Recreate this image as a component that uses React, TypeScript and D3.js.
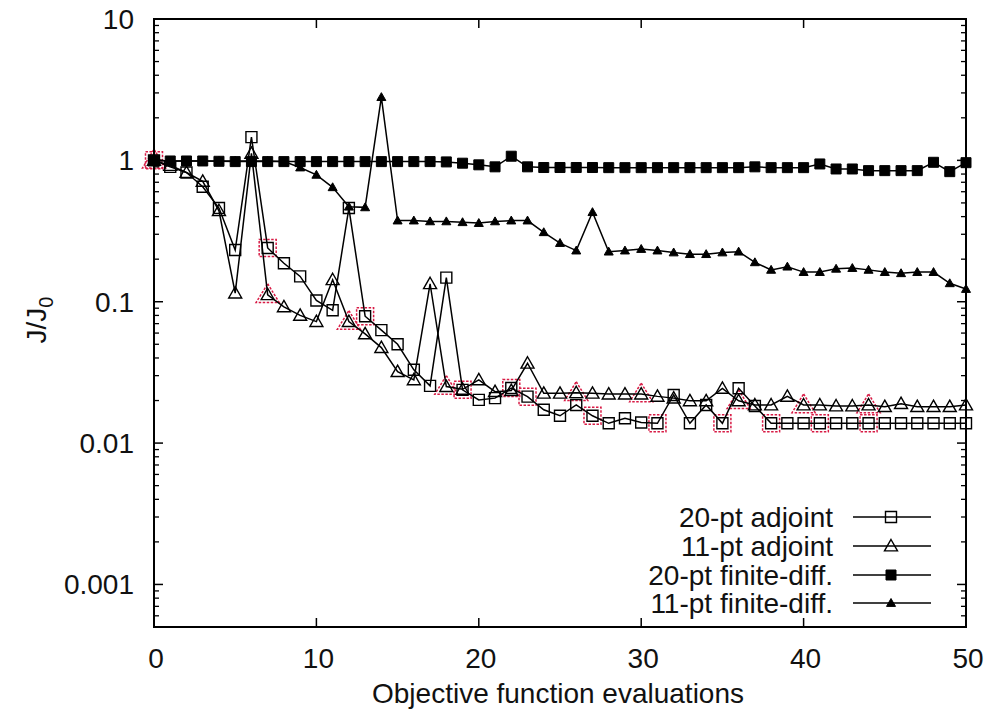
import * as d3 from 'd3';

const W = 999;
const H = 715;
const PLOT = { left: 154, right: 966, top: 19, bottom: 627 };

// evaluations 0..50
const evals = d3.range(0, 51);

const adj20 = [
  1.0, 0.9, 0.82, 0.65, 0.46, 0.232, 1.46, 0.24, 0.187, 0.151, 0.102,
  0.087, 0.46, 0.079, 0.063, 0.05, 0.033, 0.0254, 0.148, 0.0238, 0.0202,
  0.0208, 0.0245, 0.0213, 0.0172, 0.0156, 0.0186, 0.0156, 0.0138, 0.015, 0.014,
  0.0138, 0.0219, 0.0138, 0.0186, 0.0138, 0.0244, 0.0183, 0.0138, 0.0138, 0.0138,
  0.0138, 0.0138, 0.0138, 0.0138, 0.0138, 0.0138, 0.0138, 0.0138, 0.0138, 0.0138,
];

const adj11 = [
  1.0, 0.92, 0.82, 0.71, 0.44, 0.115, 1.12, 0.112, 0.092, 0.08, 0.0723,
  0.143, 0.0723, 0.0592, 0.0474, 0.032, 0.028, 0.134, 0.0251, 0.024, 0.028,
  0.0231, 0.0235, 0.0367, 0.0225, 0.0225, 0.0227, 0.0225, 0.0222, 0.0222, 0.0222,
  0.0214, 0.0208, 0.0199, 0.0199, 0.0244, 0.0199, 0.0186, 0.0186, 0.0214, 0.0186,
  0.0186, 0.0183, 0.0183, 0.0186, 0.0181, 0.019, 0.0181, 0.0181, 0.0181, 0.0186,
];

const fd20 = [
  1.0, 0.99, 0.99, 0.99, 0.985, 0.98, 0.98, 0.98, 0.98, 0.98, 0.98,
  0.98, 0.98, 0.98, 0.98, 0.98, 0.98, 0.98, 0.975, 0.955, 0.93,
  0.9, 1.07, 0.9, 0.89, 0.89, 0.89, 0.89, 0.888, 0.888, 0.888,
  0.888, 0.888, 0.888, 0.888, 0.888, 0.888, 0.9, 0.888, 0.888, 0.888,
  0.943, 0.869, 0.869, 0.846, 0.846, 0.846, 0.846, 0.969, 0.832, 0.963,
];

const fd11 = [
  1.0, 0.99, 0.99, 0.99, 0.99, 0.99, 0.99, 0.99, 0.98, 0.89, 0.79,
  0.645, 0.47, 0.465, 2.8, 0.375, 0.375, 0.37, 0.37, 0.365, 0.36,
  0.37, 0.375, 0.375, 0.31, 0.26, 0.23, 0.43, 0.226, 0.23, 0.236,
  0.23, 0.223, 0.217, 0.217, 0.223, 0.226, 0.19, 0.168, 0.177, 0.162,
  0.162, 0.171, 0.173, 0.168, 0.162, 0.159, 0.162, 0.162, 0.135, 0.123,
];

// points highlighted with red dashed outlines
const redSquareIdx = [0, 7, 13, 19, 22, 23, 27, 31, 35, 38, 41, 44];
const redTriangleIdx = [0, 7, 12, 18, 26, 30, 36, 40, 44];

const xTicks = [0, 10, 20, 30, 40, 50];
const yTicks = [10, 1, 0.1, 0.01, 0.001];
const yTickLabels = ['10', '1', '0.1', '0.01', '0.001'];

const legendLabels = ['20-pt adjoint', '11-pt adjoint', '20-pt finite-diff.', '11-pt finite-diff.'];

const FONT = '"Liberation Sans", Arial, Helvetica, sans-serif';
const FS = 28;
const RED = '#d81b45';

type Marker = 'openSquare' | 'openTriangle' | 'filledSquare' | 'smallTriangle';

const markerPath = (m: Marker, cx: number, cy: number) => {
  if (m === 'openSquare') {
    const s = 5.5;
    return `M${cx - s},${cy - s}h${2 * s}v${2 * s}h${-2 * s}Z`;
  }
  if (m === 'filledSquare') {
    const s = 5;
    return `M${cx - s},${cy - s}h${2 * s}v${2 * s}h${-2 * s}Z`;
  }
  if (m === 'openTriangle') {
    const s = 6.5;
    return `M${cx},${cy - s}L${cx + s},${cy + s * 0.75}L${cx - s},${cy + s * 0.75}Z`;
  }
  const s = 4.5;
  return `M${cx},${cy - s}L${cx + s},${cy + s * 0.75}L${cx - s},${cy + s * 0.75}Z`;
};

const series: { values: number[]; marker: Marker }[] = [
  { values: adj20, marker: 'openSquare' },
  { values: adj11, marker: 'openTriangle' },
  { values: fd20, marker: 'filledSquare' },
  { values: fd11, marker: 'smallTriangle' },
];

export default function App() {
  const x = d3.scaleLinear().domain([0, 50]).range([PLOT.left, PLOT.right]);
  const y = d3.scaleLog().domain([0.0005, 10]).range([PLOT.bottom, PLOT.top]);

  const line = d3
    .line<number>()
    .x((_, i) => x(evals[i]))
    .y((d) => y(d));

  // minor ticks 2..9 in each decade
  const minorTicks: number[] = [];
  for (let e = -4; e <= 0; e++) {
    for (let k = 2; k <= 9; k++) {
      const v = k * Math.pow(10, e);
      if (v > 0.0005 && v < 10) minorTicks.push(v);
    }
  }

  const legendY = [517, 546, 575, 603];

  return (
    <svg
      width={W}
      height={H}
      style={{ position: 'absolute', left: 0, top: 0, background: '#fff' }}
      fontFamily={FONT}
    >
      <rect x={0} y={0} width={W} height={H} fill="#fff" />

      {/* red highlights */}
      {redSquareIdx.map((j) => {
        const cx = x(evals[j]);
        const cy = y(adj20[j]);
        return (
          <rect
            key={`rs${j}`}
            x={cx - 8.5}
            y={cy - 8.5}
            width={17}
            height={17}
            fill="none"
            stroke={RED}
            strokeWidth={1.5}
            strokeDasharray="2.5,1.5"
          />
        );
      })}
      {redTriangleIdx.map((j) => {
        const cx = x(evals[j]);
        const cy = y(adj11[j]);
        const s = 11;
        return (
          <path
            key={`rt${j}`}
            d={`M${cx},${cy - s}L${cx + s * 1.05},${cy + s * 0.7}L${cx - s * 1.05},${cy + s * 0.7}Z`}
            fill="none"
            stroke={RED}
            strokeWidth={1.5}
            strokeDasharray="2.5,1.5"
          />
        );
      })}

      {/* series lines */}
      {series.map((s, i) => (
        <path key={i} d={line(s.values) || ''} fill="none" stroke="#000" strokeWidth={1.5} />
      ))}

      {/* markers */}
      {series.map((s, i) =>
        s.values.map((v, j) => {
          const filled = s.marker === 'filledSquare' || s.marker === 'smallTriangle';
          return (
            <path
              key={`${i}-${j}`}
              d={markerPath(s.marker, x(evals[j]), y(v))}
              fill={filled ? '#000' : 'none'}
              stroke="#000"
              strokeWidth={filled ? 1 : 1.4}
            />
          );
        })
      )}

      {/* frame */}
      <rect
        x={PLOT.left}
        y={PLOT.top}
        width={PLOT.right - PLOT.left}
        height={PLOT.bottom - PLOT.top}
        fill="none"
        stroke="#000"
        strokeWidth={2}
      />

      {/* x ticks */}
      {xTicks.map((t) => (
        <g key={`xt${t}`}>
          <line x1={x(t)} x2={x(t)} y1={PLOT.bottom} y2={PLOT.bottom - 9} stroke="#000" strokeWidth={1.5} />
          <line x1={x(t)} x2={x(t)} y1={PLOT.top} y2={PLOT.top + 9} stroke="#000" strokeWidth={1.5} />
          <text x={x(t) + 2} y={668} fontSize={FS} textAnchor="middle" fill="#111">
            {t}
          </text>
        </g>
      ))}

      {/* y ticks */}
      {yTicks.map((t, i) => (
        <g key={`yt${t}`}>
          <line x1={PLOT.left} x2={PLOT.left + 9} y1={y(t)} y2={y(t)} stroke="#000" strokeWidth={1.5} />
          <line x1={PLOT.right} x2={PLOT.right - 9} y1={y(t)} y2={y(t)} stroke="#000" strokeWidth={1.5} />
          <text x={134} y={y(t) + 10} fontSize={FS} textAnchor="end" fill="#111">
            {yTickLabels[i]}
          </text>
        </g>
      ))}
      {minorTicks.map((t) => (
        <g key={`ym${t}`}>
          <line x1={PLOT.left} x2={PLOT.left + 5} y1={y(t)} y2={y(t)} stroke="#000" strokeWidth={1.3} />
          <line x1={PLOT.right} x2={PLOT.right - 5} y1={y(t)} y2={y(t)} stroke="#000" strokeWidth={1.3} />
        </g>
      ))}

      {/* axis titles */}
      <text x={558} y={703} fontSize={FS} textAnchor="middle" fill="#111">
        Objective function evaluations
      </text>
      <text transform="translate(46,320) rotate(-90)" fontSize={FS} textAnchor="middle" fill="#111">
        J/J<tspan fontSize={20} dy={7}>0</tspan>
      </text>

      {/* legend */}
      {legendLabels.map((lab, i) => {
        const ly = legendY[i];
        const s = series[i];
        const filled = s.marker === 'filledSquare' || s.marker === 'smallTriangle';
        return (
          <g key={lab}>
            <text x={833} y={ly + 10} fontSize={FS} textAnchor="end" fill="#111">
              {lab}
            </text>
            <line x1={853} x2={931} y1={ly} y2={ly} stroke="#000" strokeWidth={1.5} />
            <path
              d={markerPath(s.marker, 891, ly)}
              fill={filled ? '#000' : 'none'}
              stroke="#000"
              strokeWidth={filled ? 1 : 1.4}
            />
          </g>
        );
      })}
    </svg>
  );
}
